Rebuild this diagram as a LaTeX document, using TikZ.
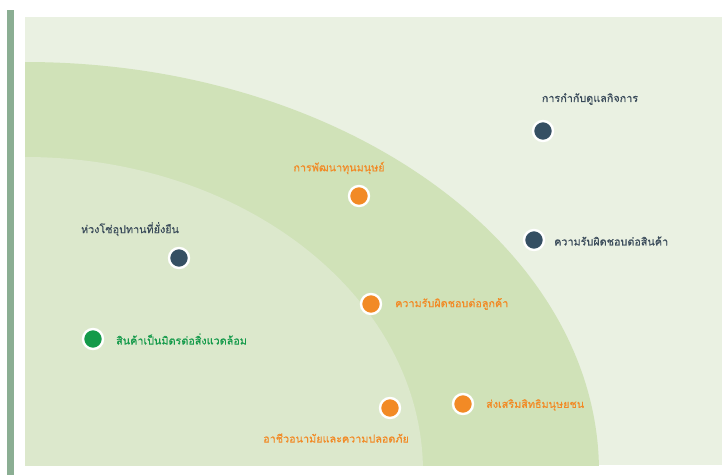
\documentclass[tikz,border=0pt]{standalone}
\usepackage{fontspec}
\newfontfamily\thaifont[Script=Thai,FakeBold=0.5]{Loma}
\definecolor{bgpale}{HTML}{EAF1E2}
\definecolor{band}{HTML}{D0E2B8}
\definecolor{inner}{HTML}{DCE8CC}
\definecolor{bar}{HTML}{8BAE93}
\definecolor{dkdot}{HTML}{354F63}
\definecolor{ordot}{HTML}{F28A25}
\definecolor{grdot}{HTML}{149A4A}
\definecolor{dktext}{HTML}{3A4B5A}
\tikzset{
  dot/.style={circle, draw=white, line width=2.4pt, minimum size=20pt, inner sep=0pt},
  lbl/.style={font=\thaifont\fontsize{10.8}{12}\selectfont, inner sep=0pt},
}
\begin{document}
\begin{tikzpicture}[x=1pt,y=-1pt]
\useasboundingbox (0,0) rectangle (722,475);
\fill[white] (0,0) rectangle (722,475);
\fill[bar] (7,10) rectangle (14,475);
\fill[bgpale] (25,17) rectangle (722,465);
\begin{scope}
\clip (25,17) rectangle (722,465);
\fill[band] (25,472) ellipse [x radius=574, y radius=410];
\fill[inner] (25,472) ellipse [x radius=398, y radius=315];
\end{scope}
% dots
\node[dot, fill=dkdot] (d1) at (543,131) {};
\node[dot, fill=ordot] (d2) at (359,196) {};
\node[dot, fill=dkdot] (d3) at (179,258) {};
\node[dot, fill=dkdot] (d4) at (534,240) {};
\node[dot, fill=ordot] (d5) at (371,304) {};
\node[dot, fill=grdot] (d6) at (93,339) {};
\node[dot, fill=ordot] (d7) at (390,408) {};
\node[dot, fill=ordot] (d8) at (463,404) {};
% labels
\node[lbl, text=dktext] (l1) at (590,99) {การกำกับดูแลกิจการ};
\node[lbl, text=ordot] (l2) at (339,168) {การพัฒนาทุนมนุษย์};
\node[lbl, text=dktext] (l3) at (130,229) {ห่วงโซ่อุปทานที่ยั่งยืน};
\node[lbl, text=dktext, anchor=west] (l4) at (554,241) {ความรับผิดชอบต่อสินค้า};
\node[lbl, text=ordot, anchor=west] (l5) at (395,304) {ความรับผิดชอบต่อลูกค้า};
\node[lbl, text=grdot, anchor=west] (l6) at (116,339) {สินค้าเป็นมิตรต่อสิ่งแวดล้อม};
\node[lbl, text=ordot] (l7) at (336,438) {อาชีวอนามัยและความปลอดภัย};
\node[lbl, text=ordot, anchor=west] (l8) at (486,405) {ส่งเสริมสิทธิมนุษยชน};
\end{tikzpicture}
\end{document}
